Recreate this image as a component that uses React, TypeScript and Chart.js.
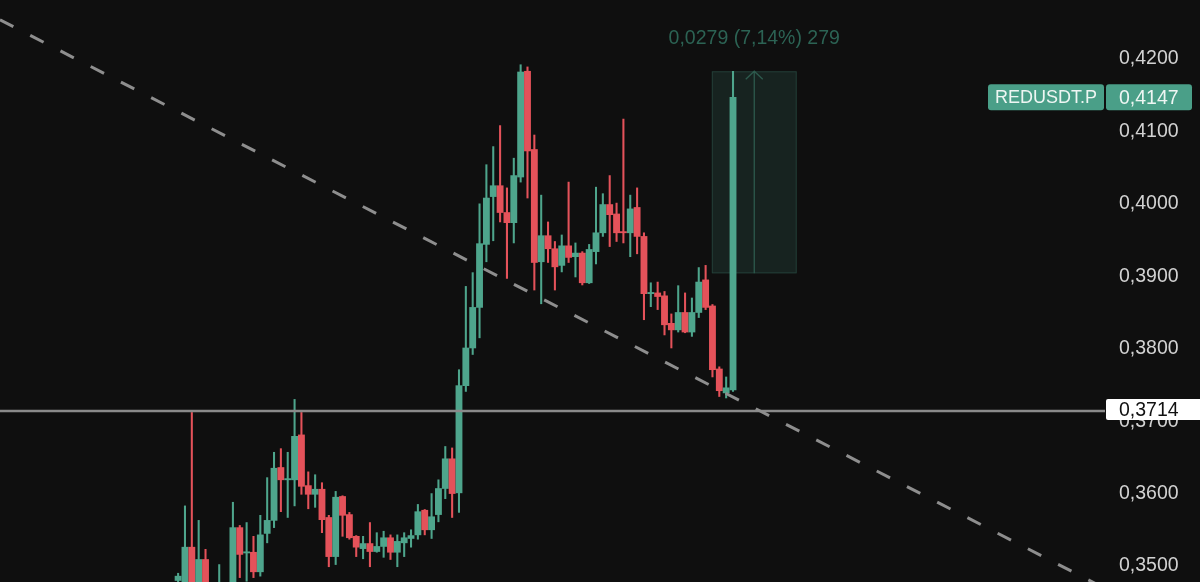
import React, { useEffect, useRef } from 'react';
import { Chart, registerables } from 'chart.js';

Chart.register(...registerables);

// ---- Data (REDUSDT.P candles, left to right) ----
const opens = [
  0.3480, 0.3465, 0.3526, 0.3462, 0.3509, 0.3460, 0.3462, 0.3465, 0.3462, 0.3553,
  0.3518, 0.3519, 0.3492, 0.3545, 0.3563, 0.3636, 0.3619, 0.3619, 0.3681, 0.3611,
  0.3599, 0.3606, 0.3567, 0.3513, 0.3596, 0.3571, 0.3541, 0.3524, 0.3531, 0.3520,
  0.3527, 0.3539, 0.3519, 0.3532, 0.3538, 0.3543, 0.3577, 0.3550, 0.3571, 0.3607,
  0.3648, 0.3601, 0.3749, 0.3801, 0.3857, 0.3944, 0.4010, 0.4025, 0.3988, 0.3974,
  0.4037, 0.4183, 0.4075, 0.3920, 0.3956, 0.3938, 0.3915, 0.3942, 0.3927, 0.3932,
  0.3891, 0.3934, 0.3960, 0.3999, 0.3986, 0.3961, 0.3960, 0.3995, 0.3955, 0.3876,
  0.3877, 0.3873, 0.3835, 0.3826, 0.3850, 0.3823, 0.3850, 0.3895, 0.3859, 0.3772,
  0.3739, 0.3743,
];
const highs = [
  0.3490, 0.3583, 0.3712, 0.3563, 0.3523, 0.3470, 0.3502, 0.3474, 0.3588, 0.3556,
  0.3560, 0.3541, 0.3570, 0.3622, 0.3657, 0.3662, 0.3657, 0.3730, 0.3712, 0.3630,
  0.3626, 0.3615, 0.3570, 0.3603, 0.3597, 0.3574, 0.3542, 0.3541, 0.3560, 0.3546,
  0.3548, 0.3543, 0.3543, 0.3546, 0.3550, 0.3585, 0.3578, 0.3600, 0.3619, 0.3665,
  0.3663, 0.3771, 0.3886, 0.3905, 0.4000, 0.4054, 0.4079, 0.4108, 0.4022, 0.4063,
  0.4192, 0.4189, 0.4095, 0.4012, 0.3975, 0.3948, 0.3957, 0.4030, 0.3946, 0.3934,
  0.3944, 0.4023, 0.4014, 0.4039, 0.4001, 0.4117, 0.4012, 0.4022, 0.3960, 0.3891,
  0.3892, 0.3879, 0.3848, 0.3887, 0.3877, 0.3870, 0.3912, 0.3915, 0.3861, 0.3775,
  0.3761, 0.4183,
];
const lows = [
  0.3470, 0.3460, 0.3458, 0.3455, 0.3455, 0.3450, 0.3455, 0.3458, 0.3455, 0.3484,
  0.3479, 0.3484, 0.3486, 0.3532, 0.3553, 0.3575, 0.3567, 0.3583, 0.3599, 0.3579,
  0.3581, 0.3546, 0.3499, 0.3502, 0.3541, 0.3537, 0.3513, 0.3510, 0.3499, 0.3519,
  0.3512, 0.3509, 0.3499, 0.3513, 0.3526, 0.3537, 0.3543, 0.3538, 0.3561, 0.3593,
  0.3567, 0.3574, 0.3741, 0.3792, 0.3815, 0.3920, 0.3949, 0.3975, 0.3897, 0.3946,
  0.4030, 0.4008, 0.3881, 0.3862, 0.3919, 0.3881, 0.3906, 0.3919, 0.3899, 0.3888,
  0.3890, 0.3917, 0.3955, 0.3941, 0.3948, 0.3946, 0.3927, 0.3931, 0.3840, 0.3858,
  0.3854, 0.3819, 0.3801, 0.3823, 0.3822, 0.3817, 0.3843, 0.3854, 0.3761, 0.3734,
  0.3732, 0.3741,
];
const closes = [
  0.3486, 0.3526, 0.3465, 0.3509, 0.3462, 0.3466, 0.3475, 0.3470, 0.3553, 0.3516,
  0.3519, 0.3492, 0.3543, 0.3563, 0.3635, 0.3619, 0.3620, 0.3679, 0.3610, 0.3599,
  0.3606, 0.3564, 0.3513, 0.3595, 0.3570, 0.3539, 0.3526, 0.3531, 0.3520, 0.3527,
  0.3539, 0.3519, 0.3534, 0.3539, 0.3542, 0.3575, 0.3550, 0.3568, 0.3607, 0.3648,
  0.3600, 0.3749, 0.3801, 0.3857, 0.3945, 0.4008, 0.4025, 0.3988, 0.3974, 0.4039,
  0.4182, 0.4073, 0.3919, 0.3956, 0.3938, 0.3913, 0.3942, 0.3926, 0.3932, 0.3891,
  0.3937, 0.3960, 0.3999, 0.3985, 0.3960, 0.3960, 0.3993, 0.3955, 0.3876, 0.3877,
  0.3872, 0.3833, 0.3826, 0.3850, 0.3823, 0.3850, 0.3892, 0.3857, 0.3771, 0.3742,
  0.3746, 0.4147,
];

const symbol = 'REDUSDT.P';
const lastPrice = 0.4147;
const levelPrice = 0.3714;
const trendStartPrice = 0.4254;
const trendEndPrice = 0.3469;
const measureLow = 0.3904;
const measureHigh = 0.4183;
const measureFromIndex = 77.9;
const measureToIndex = 90.3;
const measureText = '0,0279 (7,14%) 279';
const yTickStep = 0.01;

// ---- View ----
const X_MIN = -26;
const X_MAX = 135.3;
const Y_MIN = 0.347793;
const Y_MAX = 0.428138;

const UP = '#4ea58c';
const DOWN = '#e4525a';
const BG = '#0f0f0f';
const FONT = '"Liberation Sans", Arial, sans-serif';

const fmt = (v: number) => v.toFixed(4).replace('.', ',');

function rr(ctx: CanvasRenderingContext2D, x: number, y: number, w: number, h: number, r: number) {
  ctx.beginPath();
  ctx.moveTo(x + r, y);
  ctx.lineTo(x + w - r, y);
  ctx.arcTo(x + w, y, x + w, y + r, r);
  ctx.lineTo(x + w, y + h - r);
  ctx.arcTo(x + w, y + h, x + w - r, y + h, r);
  ctx.lineTo(x + r, y + h);
  ctx.arcTo(x, y + h, x, y + h - r, r);
  ctx.lineTo(x, y + r);
  ctx.arcTo(x, y, x + r, y, r);
  ctx.closePath();
}

const overlayPlugin = {
  id: 'overlay',
  beforeDatasetsDraw(chart: any) {
    const { ctx, scales } = chart;
    const xs = scales.x, ys = scales.y;
    const x1 = xs.getPixelForValue(measureFromIndex);
    const x2 = xs.getPixelForValue(measureToIndex);
    const yT = ys.getPixelForValue(measureHigh);
    const yB = ys.getPixelForValue(measureLow);
    ctx.save();
    ctx.fillStyle = 'rgba(78,165,140,0.14)';
    ctx.fillRect(x1, yT, x2 - x1, yB - yT);
    ctx.strokeStyle = 'rgba(78,165,140,0.22)';
    ctx.lineWidth = 1;
    ctx.strokeRect(x1 + 0.5, yT + 0.5, x2 - x1 - 1, yB - yT - 1);
    const xm = (x1 + x2) / 2;
    ctx.strokeStyle = '#2d5a4d';
    ctx.lineWidth = 1.3;
    ctx.beginPath();
    ctx.moveTo(xm, yB);
    ctx.lineTo(xm, yT);
    ctx.moveTo(xm - 8.5, yT + 8);
    ctx.lineTo(xm, yT);
    ctx.lineTo(xm + 8.5, yT + 8);
    ctx.stroke();
    ctx.restore();
  },
  afterDraw(chart: any) {
    const { ctx, scales, chartArea } = chart;
    const xs = scales.x, ys = scales.y;
    ctx.save();
    // measure text
    const x1 = xs.getPixelForValue(measureFromIndex);
    const x2 = xs.getPixelForValue(measureToIndex);
    const yT = ys.getPixelForValue(measureHigh);
    ctx.font = `19.5px ${FONT}`;
    ctx.fillStyle = '#2c6354';
    ctx.textAlign = 'center';
    ctx.textBaseline = 'middle';
    ctx.fillText(measureText, (x1 + x2) / 2, yT - 33);

    const axisX = chartArea.right;
    // last price labels
    const yp = ys.getPixelForValue(lastPrice);
    ctx.fillStyle = '#4a9f88';
    rr(ctx, axisX - 117, yp - 13, 116, 26, 3);
    ctx.fill();
    rr(ctx, axisX + 1, yp - 13, 86, 26, 3);
    ctx.fill();
    ctx.fillStyle = '#eef6f3';
    ctx.font = `18px ${FONT}`;
    ctx.textAlign = 'center';
    ctx.fillText(symbol, axisX - 59, yp + 1);
    ctx.font = `19.5px ${FONT}`;
    ctx.textAlign = 'left';
    ctx.fillText(fmt(lastPrice), axisX + 14, yp + 1);

    // level label
    const yl = ys.getPixelForValue(levelPrice);
    ctx.fillStyle = '#ffffff';
    rr(ctx, axisX + 1, yl - 12, 100, 21, 2);
    ctx.fill();
    ctx.fillStyle = '#111111';
    ctx.fillText(fmt(levelPrice), axisX + 14, yl);
    ctx.restore();
  },
};

export default function App() {
  const ref = useRef<HTMLCanvasElement | null>(null);

  useEffect(() => {
    document.body.style.margin = '0';
    document.body.style.background = BG;
    const idx = opens.map((_, i) => i);
    const colors = opens.map((o, i) => (closes[i] >= o ? UP : DOWN));
    const chart = new Chart(ref.current as HTMLCanvasElement, {
      type: 'bar',
      data: {
        datasets: [
          {
            type: 'line',
            data: [
              { x: X_MIN, y: trendStartPrice },
              { x: X_MAX, y: trendEndPrice },
            ],
            borderColor: '#8e8e8e',
            borderWidth: 3,
            borderDash: [15, 19],
            pointRadius: 0,
            order: 0,
          } as any,
          {
            type: 'line',
            data: [
              { x: X_MIN, y: levelPrice },
              { x: X_MAX, y: levelPrice },
            ],
            borderColor: '#8a8a8a',
            borderWidth: 2.7,
            pointRadius: 0,
            order: 0,
          } as any,
          {
            type: 'bar',
            data: idx.map((i) => ({ x: i, y: [Math.min(opens[i], closes[i]), Math.max(opens[i], closes[i])] })),
            backgroundColor: colors,
            borderWidth: 0,
            barThickness: 6.2,
            minBarLength: 1.2,
            grouped: false,
            order: 1,
          } as any,
          {
            type: 'bar',
            data: idx.map((i) => ({ x: i, y: [lows[i], highs[i]] })),
            backgroundColor: colors,
            borderWidth: 0,
            barThickness: 1.4,
            grouped: false,
            order: 2,
          } as any,
        ],
      },
      options: {
        responsive: false,
        animation: false,
        layout: { padding: 0 },
        plugins: {
          legend: { display: false },
          tooltip: { enabled: false },
        },
        scales: {
          x: {
            type: 'linear',
            min: X_MIN,
            max: X_MAX,
            display: false,
            offset: false,
          },
          y: {
            type: 'linear',
            position: 'right',
            min: Y_MIN,
            max: Y_MAX,
            beginAtZero: false,
            grid: { display: false, drawTicks: false },
            border: { display: false },
            ticks: {
              stepSize: yTickStep,
              includeBounds: false,
              padding: 14,
              color: '#d2d2d2',
              font: { family: FONT, size: 19.5 },
              callback: (v: any) => fmt(Number(v)),
            },
            afterFit: (scale: any) => {
              scale.width = 95;
              scale.paddingTop = 0;
              scale.paddingBottom = 0;
            },
          },
        },
      } as any,
      plugins: [overlayPlugin],
    });
    return () => chart.destroy();
  }, []);

  return (
    <div style={{ position: 'fixed', left: 0, top: 0, width: 1200, height: 582, background: BG }}>
      <canvas ref={ref} width={1200} height={582} style={{ display: 'block', width: 1200, height: 582 }} />
    </div>
  );
}
